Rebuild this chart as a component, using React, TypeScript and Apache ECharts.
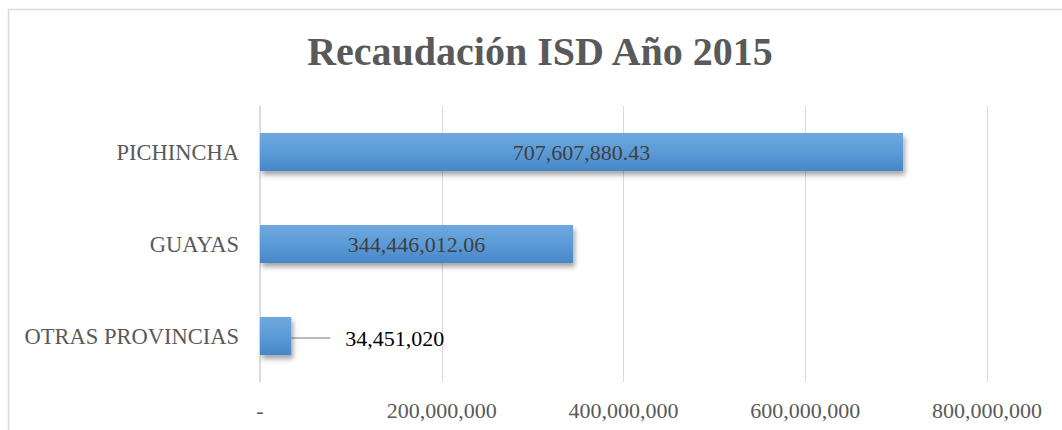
import React, { useEffect, useRef } from "react";
import * as echarts from "echarts";

const titleText = "Recaudación ISD Año 2015";
const categories = ["PICHINCHA", "GUAYAS", "OTRAS PROVINCIAS"];
const values = [707607880.43, 344446012.06, 34451020];
const xTicks = { min: 0, max: 800000000, interval: 200000000 };

const FONT = '"Liberation Serif", "Times New Roman", serif';

function fmt(v: number): string {
  if (Number.isInteger(v)) return v.toLocaleString("en-US");
  return v.toLocaleString("en-US", { minimumFractionDigits: 2, maximumFractionDigits: 2 });
}

export default function App() {
  const ref = useRef<HTMLDivElement>(null);
  useEffect(() => {
    if (!ref.current) return;
    const chart = echarts.init(ref.current, null, { renderer: "svg" });
    const barColor = new echarts.graphic.LinearGradient(0, 0, 0, 1, [
      { offset: 0, color: "#6fa8de" },
      { offset: 0.5, color: "#5b9bd8" },
      { offset: 1, color: "#4886c8" },
    ]);
    chart.setOption({
      animation: false,
      backgroundColor: "#ffffff",
      title: {
        text: titleText,
        left: 535,
        top: 26,
        textAlign: "center",
        textStyle: { fontFamily: FONT, fontSize: 40, fontWeight: "bold", color: "#595959" },
      },
      graphic: [
        {
          type: "rect",
          shape: { x: 8.5, y: 9.5, width: 1080, height: 440 },
          style: { fill: "none", stroke: "#d9d9d9", lineWidth: 1.5 },
          silent: true,
        },
      ],
      grid: { left: 260, right: 75, top: 106, bottom: 48, containLabel: false },
      xAxis: {
        type: "value",
        min: xTicks.min,
        max: xTicks.max,
        interval: xTicks.interval,
        axisLine: { show: false },
        axisTick: { show: false },
        splitLine: { show: true, lineStyle: { color: "#d9d9d9", width: 1 } },
        axisLabel: {
          margin: 17,
          fontFamily: FONT,
          fontSize: 22,
          color: "#595959",
          formatter: (v: number) => (v === 0 ? "-" : v.toLocaleString("en-US")),
        },
      },
      yAxis: {
        type: "category",
        inverse: true,
        data: categories,
        axisLine: { show: true, lineStyle: { color: "#d9d9d9", width: 1.5 } },
        axisTick: { show: false },
        axisLabel: { margin: 21, fontFamily: FONT, fontSize: 22.5, color: "#595959" },
      },
      series: [
        {
          type: "bar",
          barWidth: 38,
          data: values.map((v, i) =>
            i === 2
              ? {
                  value: v,
                  label: {
                    position: "right",
                    color: "#000000",
                    distance: 8,
                    padding: [0, 0, 0, 15],
                    backgroundColor: "rgba(255,255,255,0)",
                  },
                  labelLine: { show: true, lineStyle: { color: "#a6a6a6", width: 1.5 } },
                }
              : { value: v }
          ),
          itemStyle: {
            color: barColor,
            shadowColor: "rgba(0,0,0,0.35)",
            shadowBlur: 5,
            shadowOffsetX: 2,
            shadowOffsetY: 4,
          },
          label: {
            show: true,
            position: "inside",
            fontFamily: FONT,
            fontSize: 22,
            color: "#404040",
            formatter: (p: any) => fmt(p.value),
          },
          labelLayout: (p: any) => (p.dataIndex === 2 ? { dx: 31, dy: 2 } : {}),
        },
      ],
    });
    return () => chart.dispose();
  }, []);
  return (
    <div
      ref={ref}
      style={{ position: "fixed", left: 0, top: 0, width: 1062, height: 430 }}
    />
  );
}
